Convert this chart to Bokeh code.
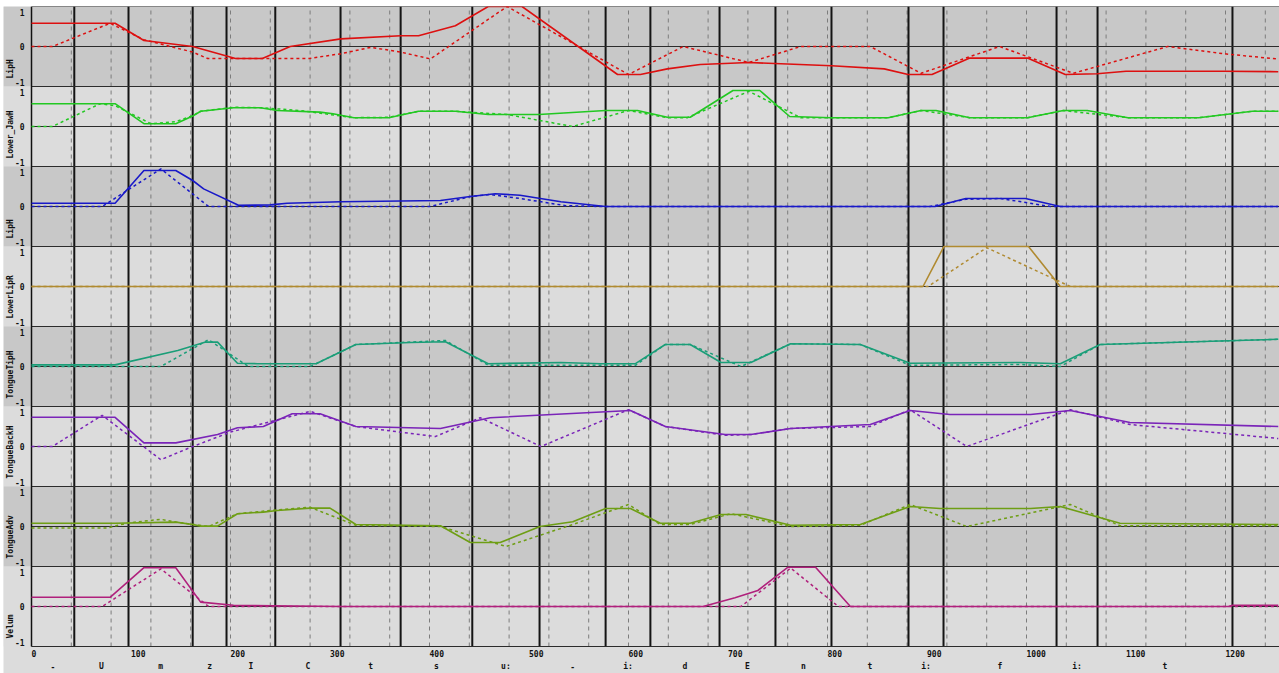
import math
from bokeh.plotting import figure
from bokeh.models import ColumnDataSource, Range1d
from bokeh.core.properties import value
from bokeh.transform import dodge
from bokeh.embed import file_html
from bokeh.resources import INLINE

# ---------------- data ----------------
channel_names = ["LipH", "Lower_JawH", "LipH", "LowerLipR",
                 "TongueTipH", "TongueBackH", "TongueAdv", "Velum"]
channel_colors = ["#dd1010", "#22c822", "#1818c8", "#b08a30",
                  "#1a9e78", "#7a24b8", "#6e9e14", "#b0207c"]

# LipH (red)
lip_x = [0, 84, 113, 162, 205, 232, 260, 311, 371, 389, 426, 459, 493, 589, 612, 639, 672, 721,
         804, 857, 881, 905, 943, 1001, 1039, 1071, 1100, 1198, 1253]
lip_v = [0.58, 0.58, 0.15, 0.0, -0.3, -0.3, 0.0, 0.19, 0.27, 0.27, 0.52, 1.0, 1.0, -0.7, -0.7,
         -0.56, -0.45, -0.4, -0.48, -0.56, -0.7, -0.7, -0.29, -0.29, -0.7, -0.68, -0.62, -0.62, -0.63]
lip_tx = [0, 21, 79, 113, 162, 177, 279, 311, 341, 371, 401, 478, 600, 655, 721, 773, 843, 894,
          973, 1047, 1142, 1198, 1251]
lip_tv = [0, 0, 0.58, 0.17, -0.14, -0.3, -0.3, -0.18, -0.02, -0.14, -0.31, 1.0, -0.7, 0.0, -0.4,
          0.0, 0.0, -0.67, 0.0, -0.67, 0.0, -0.18, -0.31]

# Lower_JawH (green)
jaw_x = [0, 84, 113, 145, 162, 170, 203, 230, 247, 290, 303, 324, 359, 389, 426, 459, 510, 577,
         609, 639, 662, 705, 732, 762, 804, 861, 894, 909, 943, 1001, 1037, 1061, 1102, 1173, 1227, 1253]
jaw_v = [0.57, 0.57, 0.07, 0.07, 0.26, 0.38, 0.47, 0.47, 0.4, 0.36, 0.32, 0.22, 0.22, 0.38, 0.38,
         0.3, 0.3, 0.4, 0.4, 0.23, 0.23, 0.9, 0.9, 0.25, 0.22, 0.22, 0.4, 0.4, 0.22, 0.22, 0.4, 0.4,
         0.22, 0.22, 0.38, 0.38]
jaw_tx = [0, 21, 69, 84, 120, 145, 162, 170, 203, 230, 270, 324, 359, 389, 426, 478, 544, 600,
          639, 659, 721, 773, 861, 894, 943, 1001, 1037, 1102, 1173, 1227, 1253]
jaw_tv = [0, 0, 0.57, 0.52, 0.07, 0.12, 0.27, 0.38, 0.48, 0.47, 0.4, 0.22, 0.23, 0.38, 0.38, 0.3,
          0.0, 0.4, 0.22, 0.22, 0.88, 0.22, 0.22, 0.4, 0.22, 0.22, 0.4, 0.22, 0.22, 0.38, 0.38]

# LipH (blue)
liph2_x = [0, 84, 113, 145, 162, 173, 208, 240, 257, 311, 411, 441, 466, 491, 532, 577, 908,
           939, 999, 1034, 1253]
liph2_v = [0.08, 0.08, 0.9, 0.9, 0.65, 0.44, 0.03, 0.04, 0.08, 0.12, 0.15, 0.25, 0.32, 0.28,
           0.12, 0.0, 0.0, 0.2, 0.2, 0.0, 0.0]
liph2_tx = [0, 71, 130, 178, 401, 441, 461, 491, 537, 572, 903, 939, 974, 1024, 1253]
liph2_tv = [0, 0, 0.94, 0, 0, 0.25, 0.3, 0.2, 0.02, 0, 0, 0.18, 0.2, 0, 0]

# LowerLipR (brown)
llr_x = [0, 896, 917, 1002, 1034, 1253]
llr_v = [0, 0, 1.0, 1.0, 0, 0]
llr_tx = [0, 901, 960, 1044, 1253]
llr_tv = [0, 0, 0.97, 0, 0]

# TongueTipH (teal)
ttip_x = [0, 84, 147, 175, 187, 207, 227, 286, 326, 381, 416, 459, 532, 572, 607, 637, 662, 693,
          723, 763, 833, 883, 994, 1034, 1074, 1253]
ttip_v = [0.04, 0.04, 0.4, 0.61, 0.61, 0.08, 0.07, 0.07, 0.55, 0.6, 0.62, 0.07, 0.1, 0.07, 0.07,
          0.55, 0.55, 0.1, 0.1, 0.57, 0.55, 0.08, 0.1, 0.07, 0.55, 0.68]
ttip_tx = [0, 130, 178, 218, 280, 326, 416, 459, 572, 607, 637, 662, 713, 763, 833, 883, 994,
           1034, 1074, 1253]
ttip_tv = [0, 0, 0.67, 0, 0, 0.55, 0.65, 0.03, 0.03, 0.03, 0.55, 0.55, 0.0, 0.57, 0.55, 0.03,
           0.05, 0.0, 0.55, 0.68]

# TongueBackH (purple)
tback_x = [0, 84, 113, 145, 187, 207, 233, 262, 290, 326, 411, 461, 602, 637, 697, 723, 763,
           843, 883, 923, 1004, 1044, 1104, 1253]
tback_v = [0.73, 0.73, 0.09, 0.09, 0.3, 0.47, 0.5, 0.82, 0.82, 0.5, 0.45, 0.72, 0.9, 0.5, 0.3,
           0.3, 0.45, 0.55, 0.9, 0.8, 0.8, 0.9, 0.6, 0.5]
tback_tx = [0, 21, 71, 130, 162, 200, 237, 280, 326, 406, 451, 512, 600, 637, 697, 723, 763,
            843, 883, 940, 1044, 1104, 1253]
tback_tv = [0, 0, 0.78, -0.33, 0, 0.36, 0.6, 0.88, 0.5, 0.25, 0.72, 0.0, 0.92, 0.5, 0.28, 0.3,
            0.45, 0.5, 0.92, 0.0, 0.92, 0.55, 0.2]

# TongueAdv (olive)
tadv_x = [0, 84, 145, 162, 170, 187, 207, 233, 247, 280, 300, 326, 411, 441, 471, 511, 544, 577,
          602, 632, 662, 693, 718, 763, 833, 883, 913, 1004, 1034, 1094, 1253]
tadv_v = [0.08, 0.08, 0.11, 0.05, 0.01, 0.01, 0.32, 0.36, 0.4, 0.46, 0.46, 0.05, 0.02, -0.4,
          -0.4, 0.0, 0.12, 0.45, 0.45, 0.08, 0.08, 0.3, 0.3, 0.03, 0.05, 0.5, 0.45, 0.45, 0.5,
          0.08, 0.05]
tadv_tx = [0, 76, 97, 130, 145, 178, 207, 240, 280, 326, 411, 477, 544, 600, 632, 662, 703, 763,
           833, 883, 940, 1044, 1094, 1253]
tadv_tv = [-0.04, -0.04, 0.09, 0.18, 0.11, 0.0, 0.32, 0.4, 0.48, 0.03, 0.0, -0.5, 0.05, 0.55,
           0.05, 0.05, 0.32, 0.0, 0.03, 0.55, 0.0, 0.55, 0.02, 0.02]

# Velum (magenta)
vel_x = [0, 79, 113, 145, 170, 203, 243, 311, 675, 707, 730, 760, 788, 823, 1203, 1207, 1253]
vel_v = [0.23, 0.23, 0.97, 0.97, 0.11, 0.03, 0.02, 0.0, 0.0, 0.22, 0.4, 0.98, 0.98, 0.0, 0.0,
         0.03, 0.03]
vel_tx = [0, 71, 130, 178, 713, 763, 811, 1253]
vel_tv = [0, 0, 0.94, 0, 0, 0.96, 0, 0]

actual_x = [lip_x, jaw_x, liph2_x, llr_x, ttip_x, tback_x, tadv_x, vel_x]
actual_v = [lip_v, jaw_v, liph2_v, llr_v, ttip_v, tback_v, tadv_v, vel_v]
target_x = [lip_tx, jaw_tx, liph2_tx, llr_tx, ttip_tx, tback_tx, tadv_tx, vel_tx]
target_v = [lip_tv, jaw_tv, liph2_tv, llr_tv, ttip_tv, tback_tv, tadv_tv, vel_tv]

# segmentation
seg_bounds = [0, 43, 97.5, 162, 196, 245, 310.6, 371, 443, 510.6, 577, 622, 691.5, 747.7, 804,
              881.4, 916.6, 1030.2, 1071.4, 1207]
phonemes = ["-", "U", "m", "z", "I", "C", "t", "s", "u:", "-", "i:", "d", "E", "n", "t",
            "i:", "f", "i:", "t"]
frame_grid = list(range(40, 1260, 40))
x_ticks = list(range(0, 1300, 100))
x_tick_labels = [str(t) for t in x_ticks]
value_ticks = [1, 0, -1]

# ---------------- layout ----------------
W, H = 1279, 673
BL, BT = 3, 6             # white border left / top
FW, FH = W - BL, H - BT   # frame size
PX_X = 0.995              # pixels per x unit
X0 = -28 / PX_X
X1 = X0 + FW / PX_X
PANEL_PX = 80
Y1 = 1.0
Y0 = 1.0 - FH / (PANEL_PX / 2.0)
n = len(channel_names)
offsets = [-2.0 * i for i in range(n)]
bottom = offsets[-1] - 1

FONT = value("DejaVu Sans Mono")

p = figure(width=W, height=H, x_range=Range1d(X0, X1), y_range=Range1d(Y0, Y1),
           x_axis_type=None, y_axis_type=None, output_backend="svg",
           toolbar_location=None, min_border=0, min_border_left=BL, min_border_top=BT)
p.grid.visible = False
p.outline_line_color = None
p.background_fill_color = "#dcdcdc"
p.border_fill_color = "white"

# panel backgrounds
bg = ["#c8c8c8" if i % 2 == 0 else "#dcdcdc" for i in range(n)]
p.quad(left=X0, right=X1, top=[o + 1 for o in offsets], bottom=[o - 1 for o in offsets],
       fill_color=bg, line_color=None)

# dashed frame grid
p.segment(x0=frame_grid, x1=frame_grid, y0=bottom, y1=1, line_color="#7c7c7c",
          line_width=1, line_dash="4 4")
# segment boundaries
p.segment(x0=seg_bounds[1:], x1=seg_bounds[1:], y0=bottom, y1=1, line_color="#141414",
          line_width=2)
# horizontal lines
hy = sorted(set([o + d for o in offsets for d in (1, 0, -1)]))
p.segment(x0=0, x1=X1, y0=hy, y1=hy, line_color="#2c2c2c", line_width=1)
# left spine
p.segment(x0=[0], x1=[0], y0=bottom, y1=1, line_color="#111111", line_width=1.5)

# curves
for i in range(n):
    src_t = ColumnDataSource(dict(x=target_x[i], v=target_v[i]))
    src_a = ColumnDataSource(dict(x=actual_x[i], v=actual_v[i]))
    p.line(x="x", y=dodge("v", offsets[i]), source=src_t, line_color=channel_colors[i],
           line_width=1.5, line_dash="3 3")
    p.line(x="x", y=dodge("v", offsets[i]), source=src_a, line_color=channel_colors[i],
           line_width=1.6)

# value labels 1 / 0 / -1
for vt, yoff in zip(value_ticks, [6, 0, -4]):
    src = ColumnDataSource(dict(x=[-7] * n, y=[o + vt for o in offsets],
                                t=[str(vt)] * n))
    p.text(x="x", y="y", text="t", source=src, text_font=FONT, text_font_style="bold",
           text_font_size="8px", text_align="right", text_baseline="middle",
           text_color="#111111", y_offset=yoff)

# channel names
src_n = ColumnDataSource(dict(x=[-21.5] * n, y=[o - 1 for o in offsets], t=channel_names))
p.text(x="x", y="y", text="t", source=src_n, angle=math.pi / 2, text_font=FONT,
       text_font_style="bold", text_font_size="8px", text_align="left",
       text_baseline="middle", text_color="#111111", y_offset=-8)

# x tick labels
src_x = ColumnDataSource(dict(x=x_ticks, y=[bottom] * len(x_ticks), t=x_tick_labels))
p.text(x="x", y="y", text="t", source=src_x, text_font=FONT, text_font_style="bold",
       text_font_size="8px", text_align="left", text_baseline="middle",
       text_color="#111111", y_offset=7)

# phoneme labels
mids = [(a + b) / 2 for a, b in zip(seg_bounds[:-1], seg_bounds[1:])]
src_p = ColumnDataSource(dict(x=mids, y=[bottom] * len(mids), t=phonemes))
p.text(x="x", y="y", text="t", source=src_p, text_font=FONT, text_font_style="bold",
       text_font_size="8px", text_align="center", text_baseline="middle",
       text_color="#111111", y_offset=20)

open("out.html", "w").write(file_html(p, INLINE))
